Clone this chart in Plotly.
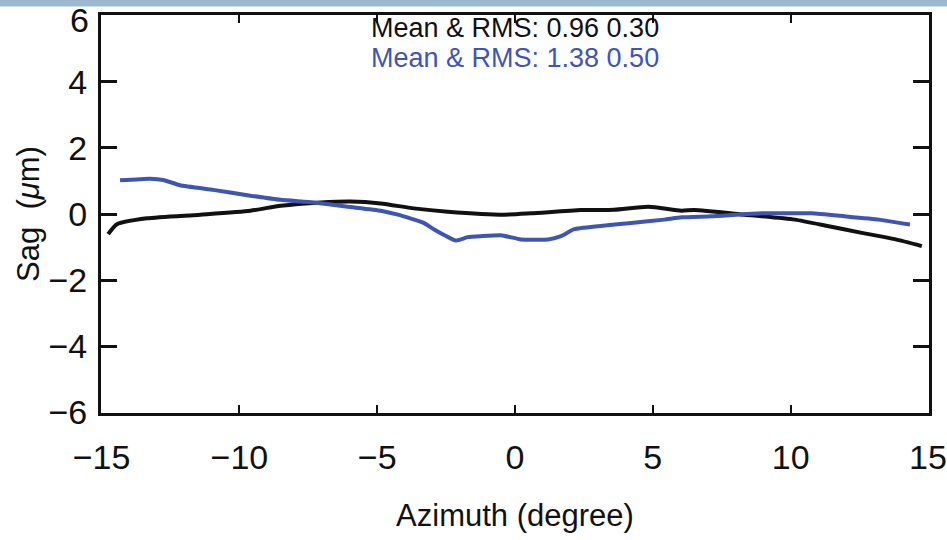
import plotly.graph_objects as go

# Black curve (Azimuth in degree, Sag in micron)
black_x = [-14.76, -14.44, -13.35, -11.42, -9.6, -8.5, -7.05, -5.96, -4.87, -3.67,
           -2.44, -0.4, 0.58, 2.4, 3.6, 4.84, 6.04, 6.5, 8.33, 10.15, 11.38, 12.58,
           13.78, 14.76]
black_y = [-0.61, -0.31, -0.13, -0.02, 0.10, 0.25, 0.35, 0.38, 0.32, 0.17,
           0.07, -0.02, 0.02, 0.12, 0.13, 0.22, 0.10, 0.12, -0.02, -0.17, -0.37, -0.57,
           -0.76, -0.97]

# Blue curve
blue_x = [-14.33, -13.24, -12.76, -12.15, -10.95, -9.71, -8.51, -7.31, -6.07, -4.87,
          -4.25, -3.31, -2.95, -2.15, -1.71, -1.24, -0.51, 0.22, 1.2, 1.67, 2.15,
          3.02, 4.22, 5.42, 6.04, 7.13, 8.95, 10.76, 11.96, 13.2, 14.33]
blue_y = [1.02, 1.07, 1.03, 0.87, 0.73, 0.57, 0.43, 0.35, 0.22, 0.10,
          -0.02, -0.27, -0.46, -0.80, -0.70, -0.67, -0.64, -0.77, -0.77, -0.67, -0.46,
          -0.37, -0.27, -0.17, -0.10, -0.07, 0.02, 0.02, -0.07, -0.17, -0.32]

x_ticks = [-15, -10, -5, 0, 5, 10, 15]
y_ticks = [-6, -4, -2, 0, 2, 4, 6]
label_black = "Mean & RMS: 0.96 0.30"
label_blue = "Mean & RMS: 1.38 0.50"

FONT = "Liberation Sans Narrow, Liberation Sans, Arial, sans-serif"
BLUE = "#3F55B2"
INK = "#111111"


def fmt(v):
    return str(v).replace("-", "−")


fig = go.Figure()
fig.add_trace(go.Scatter(x=black_x, y=black_y, mode="lines",
                         line=dict(color=INK, width=4, shape="spline", smoothing=0.6),
                         showlegend=False))
fig.add_trace(go.Scatter(x=blue_x, y=blue_y, mode="lines",
                         line=dict(color=BLUE, width=4, shape="spline", smoothing=0.4),
                         showlegend=False))

fig.add_annotation(x=0, xref="x", y=0.968, yref="paper", text=label_black,
                   showarrow=False, font=dict(family=FONT, size=27, color=INK),
                   xanchor="center", yanchor="middle")
fig.add_annotation(x=0, xref="x", y=0.893, yref="paper", text=label_blue,
                   showarrow=False, font=dict(family=FONT, size=27, color=BLUE),
                   xanchor="center", yanchor="middle")

# end tick labels that plotly would hide at the figure edge
fig.add_annotation(x=x_ticks[-1], xref="x", y=0, yref="paper", yshift=-44,
                   text=fmt(x_ticks[-1]), showarrow=False,
                   font=dict(family=FONT, size=34, color=INK),
                   xanchor="center", yanchor="middle")
fig.add_annotation(x=0, xref="paper", y=y_ticks[-1], yref="y", xshift=-10,
                   text=fmt(y_ticks[-1]), showarrow=False,
                   font=dict(family=FONT, size=34, color=INK),
                   xanchor="right", yanchor="middle", yshift=-4)

# top decorative strip
fig.add_shape(type="rect", xref="paper", yref="paper", x0=-0.2, x1=1.1,
              y0=1.0 + 8.5 / 401, y1=1.0 + 20 / 401, fillcolor="#9bbad0",
              line=dict(width=0), layer="above")

fig.update_xaxes(range=[-15.02, 15.02], tickvals=x_ticks,
                 ticktext=[fmt(v) for v in x_ticks],
                 showline=True, linewidth=3, linecolor=INK, mirror="ticks",
                 ticks="inside", ticklen=8, tickwidth=2, tickcolor=INK,
                 showgrid=False, zeroline=False, ticklabelstandoff=12,
                 tickfont=dict(family=FONT, size=34, color=INK),
                 title=dict(text="Azimuth (degree)", standoff=30,
                            font=dict(family=FONT, size=31, color=INK)))
fig.update_yaxes(range=[-6.02, 6.02], tickvals=y_ticks,
                 ticktext=[fmt(v) for v in y_ticks],
                 showline=True, linewidth=3, linecolor=INK, mirror="ticks",
                 ticks="inside", ticklen=16, tickwidth=3, tickcolor=INK,
                 showgrid=False, zeroline=False, ticklabelstandoff=4,
                 tickfont=dict(family=FONT, size=34, color=INK),
                 title=dict(text="Sag  (<i>μ</i>m)", standoff=0,
                            font=dict(family=FONT, size=31, color=INK)))

fig.update_layout(width=947, height=540,
                  margin=dict(l=101, r=18, t=12, b=127),
                  paper_bgcolor="white", plot_bgcolor="white")

fig.write_html("out.html")
